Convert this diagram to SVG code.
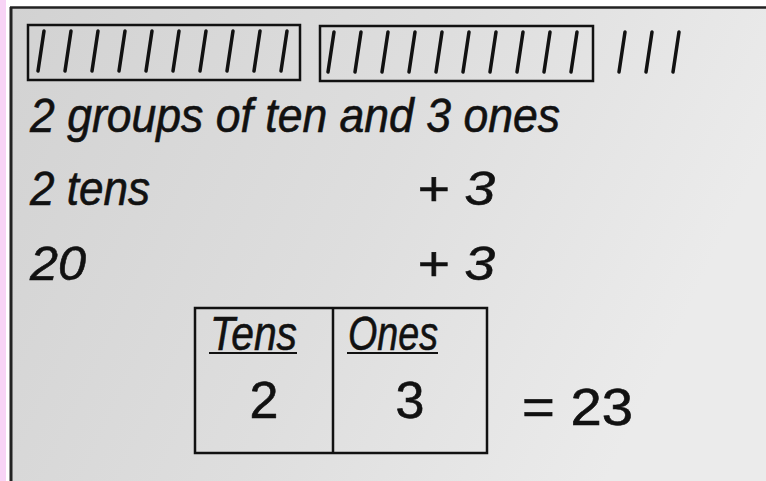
<svg xmlns="http://www.w3.org/2000/svg" width="766" height="481" viewBox="0 0 766 481">
<defs>
<linearGradient id="bg" x1="0" y1="0" x2="1" y2="0.3">
<stop offset="0" stop-color="#d2d2d2"/>
<stop offset="0.55" stop-color="#dedede"/>
<stop offset="1" stop-color="#ebebeb"/>
</linearGradient>
<style>
.t{font-family:"Liberation Sans",Arial,sans-serif;font-style:italic;fill:#111;font-size:48px;stroke:#111;stroke-width:0.6}
.d{font-size:52px;font-style:normal}
.tally line{stroke:#111;stroke-width:3.5;stroke-linecap:round}
.box{fill:none;stroke:#111;stroke-width:2.5}
</style>
</defs>
<rect x="0" y="0" width="766" height="481" fill="#ffffff"/>
<rect x="0" y="0" width="6" height="481" fill="#f8d4f6"/>
<rect x="10" y="7" width="756" height="474" fill="url(#bg)"/>
<line x1="10" y1="7.5" x2="766" y2="7.5" stroke="#222" stroke-width="2.5"/>
<line x1="11" y1="7" x2="11" y2="481" stroke="#222" stroke-width="3"/>

<g id="tally-group-1">
<rect class="box" x="28" y="25" width="272" height="55"/>
<g class="tally">
<line x1="38" y1="71" x2="44" y2="31"/><line x1="65" y1="71" x2="71" y2="31"/><line x1="92" y1="71" x2="98" y2="31"/><line x1="119" y1="71" x2="125" y2="31"/><line x1="146" y1="71" x2="152" y2="31"/><line x1="173" y1="71" x2="179" y2="31"/><line x1="200" y1="71" x2="206" y2="31"/><line x1="227" y1="71" x2="233" y2="31"/><line x1="254" y1="71" x2="260" y2="31"/><line x1="281" y1="71" x2="287" y2="31"/>
</g>
</g>
<g id="tally-group-2">
<rect class="box" x="320" y="26" width="273" height="55"/>
<g class="tally">
<line x1="328" y1="72" x2="334" y2="32"/><line x1="355" y1="72" x2="361" y2="32"/><line x1="382" y1="72" x2="388" y2="32"/><line x1="409" y1="72" x2="415" y2="32"/><line x1="436" y1="72" x2="442" y2="32"/><line x1="463" y1="72" x2="469" y2="32"/><line x1="490" y1="72" x2="496" y2="32"/><line x1="517" y1="72" x2="523" y2="32"/><line x1="544" y1="72" x2="550" y2="32"/><line x1="571" y1="72" x2="577" y2="32"/>
</g>
</g>
<g id="tally-ones" class="tally">
<line x1="619" y1="72" x2="625" y2="32"/><line x1="646" y1="72" x2="652" y2="32"/><line x1="673" y1="72" x2="679" y2="32"/>
</g>

<g id="line1"><text class="t" x="30" y="132" textLength="530" lengthAdjust="spacingAndGlyphs">2 groups of ten and 3 ones</text></g>
<g id="line2">
<text class="t" x="30" y="205" textLength="120" lengthAdjust="spacingAndGlyphs">2 tens</text>
<text class="t" x="417" y="205" textLength="78" lengthAdjust="spacingAndGlyphs">+ 3</text>
</g>
<g id="line3">
<text class="t" x="30" y="280" textLength="56" lengthAdjust="spacingAndGlyphs">20</text>
<text class="t" x="417" y="280" textLength="78" lengthAdjust="spacingAndGlyphs">+ 3</text>
</g>

<g id="place-value-table">
<rect class="box" x="195" y="308" width="292" height="145"/>
<line x1="333" y1="308" x2="333" y2="453" stroke="#111" stroke-width="2.5"/>
<text class="t" x="210" y="350" textLength="87" lengthAdjust="spacingAndGlyphs">Tens</text>
<line x1="209" y1="353" x2="297" y2="353" stroke="#111" stroke-width="2"/>
<text class="t" x="348" y="350" textLength="90" lengthAdjust="spacingAndGlyphs">Ones</text>
<line x1="347" y1="353" x2="438" y2="353" stroke="#111" stroke-width="2"/>
<text class="t d" x="264" y="418" text-anchor="middle">2</text>
<text class="t d" x="410" y="418" text-anchor="middle">3</text>
</g>
<g id="result"><text class="t d" x="522" y="425" textLength="111" lengthAdjust="spacingAndGlyphs">= 23</text></g>
</svg>
